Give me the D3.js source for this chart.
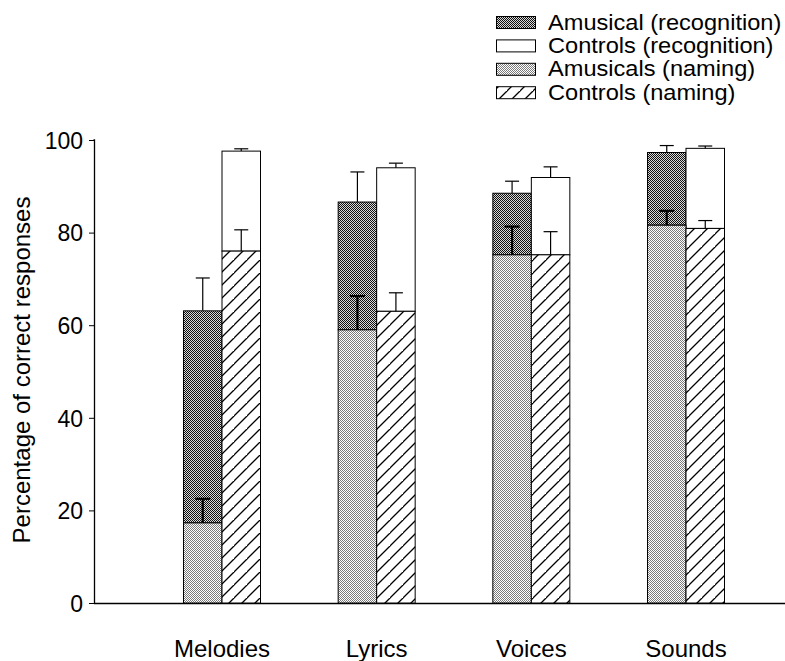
<!DOCTYPE html>
<html><head><meta charset="utf-8">
<script src="https://cdn.jsdelivr.net/npm/d3@7"></script>
<style>body{margin:0;background:#fff}svg{display:block}text{font-family:"Liberation Sans",Arial,sans-serif;fill:#000}</style>
</head><body>
<script>
const categories = ["Melodies", "Lyrics", "Voices", "Sounds"];
const amusRecog = [63.1, 86.6, 88.5, 97.3];
const amusRecogErr = [70.2, 93.1, 91.1, 98.8];
const ctrlRecog = [97.6, 94.0, 91.9, 98.2];
const ctrlRecogErr = [98.1, 95.0, 94.2, 98.7];
const amusName = [17.3, 59.0, 75.2, 81.6];
const amusNameErr = [22.5, 66.3, 81.3, 84.7];
const ctrlName = [76.0, 63.0, 75.2, 80.9];
const ctrlNameErr = [80.6, 67.0, 80.2, 82.6];
const yTicks = [0, 20, 40, 60, 80, 100];
const legendLabels = ["Amusical (recognition)", "Controls (recognition)", "Amusicals (naming)", "Controls (naming)"];

const W = 785, H = 661;
const svg = d3.select("body").append("svg").attr("width", W).attr("height", H);
const defs = svg.append("defs");

// dark stipple
const pd = defs.append("pattern").attr("id","dark").attr("patternUnits","userSpaceOnUse").attr("width",2).attr("height",2);
pd.append("rect").attr("width",2).attr("height",2).attr("fill","#d8d8d8");
pd.append("rect").attr("width",1).attr("height",1).attr("fill","#111");
pd.append("rect").attr("x",1).attr("y",1).attr("width",1).attr("height",1).attr("fill","#111");
// light stipple
const pl = defs.append("pattern").attr("id","light").attr("patternUnits","userSpaceOnUse").attr("width",2).attr("height",2);
pl.append("rect").attr("width",2).attr("height",2).attr("fill","#fff");
pl.append("rect").attr("width",1).attr("height",1).attr("fill","#7a7a7a");
pl.append("rect").attr("x",1).attr("y",1).attr("width",1).attr("height",1).attr("fill","#7a7a7a");
// hatch
const ph = defs.append("pattern").attr("id","hatch").attr("patternUnits","userSpaceOnUse").attr("width",13).attr("height",13);
ph.append("rect").attr("width",13).attr("height",13).attr("fill","#fff");
ph.append("path").attr("d","M-1,14 L14,-1 M-14,14 L1,-1 M12,27 L27,12").attr("stroke","#000").attr("stroke-width",1.3);

const y = d3.scaleLinear().domain([0,100]).range([603,140]);
const xc = d3.scalePoint().domain(categories).range([222,686]);
const bw = 38.5;
const x0 = 94;

// axes
const yAxis = svg.append("g").attr("transform",`translate(${x0},0)`)
  .call(d3.axisLeft(y).tickValues(yTicks).tickSize(5).tickPadding(6));
yAxis.select(".domain").attr("d",`M-0.5,${y(100)}H0.5V${y(0)}`).attr("stroke","#000").attr("stroke-width",1.3);
yAxis.selectAll("text").style("font-size","23px").attr("font-family","Liberation Sans, Arial, sans-serif").attr("dy","0.36em");
yAxis.selectAll("line").attr("stroke","#000");

svg.append("line").attr("x1",x0).attr("x2",W).attr("y1",y(0)+0.5).attr("y2",y(0)+0.5).attr("stroke","#000").attr("stroke-width",1.3);

svg.append("text").attr("transform",`translate(30,${370}) rotate(-90)`).attr("text-anchor","middle")
  .style("font-size","24px").text("Percentage of correct responses");

svg.append("g").selectAll("text").data(categories).join("text")
  .attr("x",d=>xc(d)).attr("y",657).attr("text-anchor","middle").style("font-size","24px").text(d=>d);

const g = svg.append("g");
categories.forEach((c,i)=>{
  const cx = xc(c);
  const ax = cx - bw, bx = cx;
  // recognition bars
  g.append("rect").attr("x",ax).attr("y",y(amusRecog[i])).attr("width",bw).attr("height",y(amusName[i])-y(amusRecog[i]))
    .attr("fill","url(#dark)").attr("stroke","#000").attr("stroke-width",1);
  g.append("rect").attr("x",bx).attr("y",y(ctrlRecog[i])).attr("width",bw).attr("height",y(ctrlName[i])-y(ctrlRecog[i]))
    .attr("fill","#fff").attr("stroke","#000").attr("stroke-width",1);
  // naming bars
  g.append("rect").attr("x",ax).attr("y",y(amusName[i])).attr("width",bw).attr("height",y(0)-y(amusName[i]))
    .attr("fill","url(#light)").attr("stroke","#000").attr("stroke-width",1);
  g.append("rect").attr("x",bx).attr("y",y(ctrlName[i])).attr("width",bw).attr("height",y(0)-y(ctrlName[i]))
    .attr("fill","url(#hatch)").attr("stroke","#000").attr("stroke-width",1);
  // error bars
  const eb = (xm, v0, v1, cap, sw) => {
    g.append("line").attr("x1",xm).attr("x2",xm).attr("y1",y(v0)).attr("y2",y(v1)).attr("stroke","#000").attr("stroke-width",sw);
    g.append("line").attr("x1",xm-cap/2).attr("x2",xm+cap/2).attr("y1",y(v1)).attr("y2",y(v1)).attr("stroke","#000").attr("stroke-width",sw);
  };
  eb(ax+bw/2, amusRecog[i], amusRecogErr[i], 14, 1.2);
  eb(bx+bw/2, ctrlRecog[i], ctrlRecogErr[i], 14, 1.2);
  eb(ax+bw/2, amusName[i], amusNameErr[i], 15, 2.2);
  eb(bx+bw/2, ctrlName[i], ctrlNameErr[i], 14, 1.2);
});

// legend
const fills = ["url(#dark)","#fff","url(#light)","url(#hatch)"];
const lg = svg.append("g");
legendLabels.forEach((l,i)=>{
  const yy = 16 + i*23.4;
  lg.append("rect").attr("x",496.5).attr("y",yy+0.5).attr("width",39).attr("height",12).attr("fill",fills[i]).attr("stroke","#000").attr("stroke-width",1);
  lg.append("text").attr("transform",`translate(548,${yy+13.5}) scale(1.18,1.08)`).style("font-size","20px").text(l);
});
</script>
</body></html>
